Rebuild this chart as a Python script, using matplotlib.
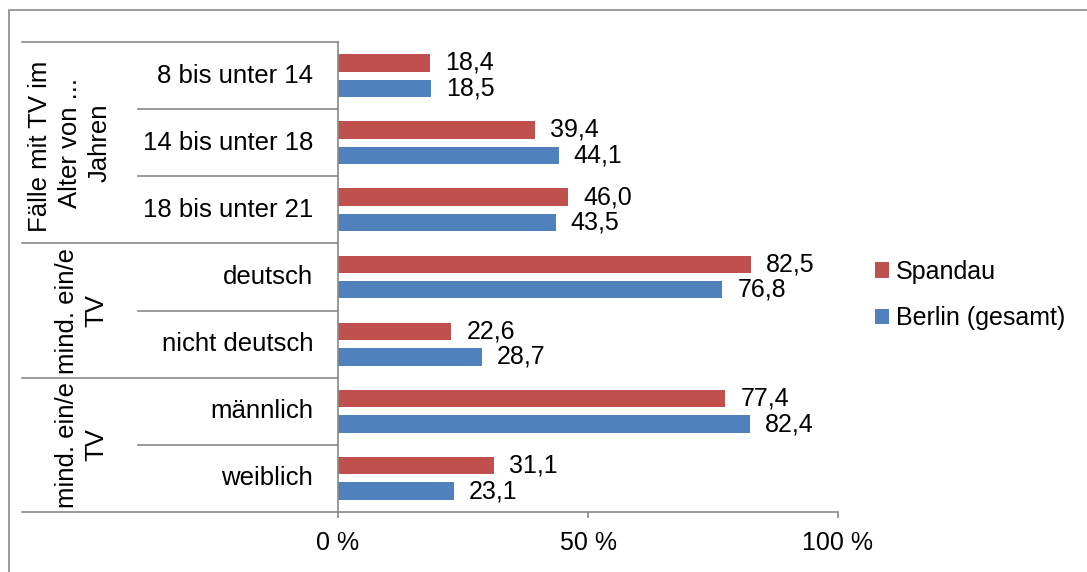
import numpy as np
import matplotlib
matplotlib.use("Agg")
from matplotlib import pyplot as plt
from matplotlib.patches import Patch, Rectangle
from matplotlib.transforms import blended_transform_factory

# data
categories = ["8 bis unter 14", "14 bis unter 18", "18 bis unter 21",
              "deutsch", "nicht deutsch", "männlich", "weiblich"]
spandau = [18.4, 39.4, 46.0, 82.5, 22.6, 77.4, 31.1]
berlin = [18.5, 44.1, 43.5, 76.8, 28.7, 82.4, 23.1]
group_labels = ["Fälle mit TV im \nAlter von ...\nJahren", "mind. ein/e\nTV", "mind. ein/e\nTV"]
group_sizes = [3, 2, 2]
xticks = [0, 50, 100]
xtick_labels = ["0 %", "50 %", "100 %"]
series_names = ["Spandau", "Berlin (gesamt)"]

RED = "#C0504D"
BLUE = "#4F81BD"
GRID = "#898989"
FS = 18

plt.rcParams["font.family"] = ["Liberation Sans", "DejaVu Sans"]

W, H = 1087, 572
fig = plt.figure(figsize=(W / 100, H / 100), dpi=100)

# outer frame (only top/left visible in the reference)
fig.patches.append(Rectangle((9 / W, -0.1), 1.2, (H - 10) / H + 0.1,
                             transform=fig.transFigure, fill=False,
                             edgecolor=GRID, linewidth=1.2))

ax_left, ax_right, ax_top, ax_bottom = 338, 838, 42, 512
ax = fig.add_axes([ax_left / W, (H - ax_bottom) / H,
                   (ax_right - ax_left) / W, (ax_bottom - ax_top) / H])

y = np.arange(len(categories))
bar_h = 0.26
off = 0.19
b1 = ax.barh(y - off, spandau, height=bar_h, color=RED)
b2 = ax.barh(y + off, berlin, height=bar_h, color=BLUE)

fmt = lambda vals: [f"{v:.1f}".replace(".", ",") for v in vals]
ax.bar_label(b1, labels=fmt(spandau), padding=11, fontsize=FS)
ax.bar_label(b2, labels=fmt(berlin), padding=11, fontsize=FS)

ax.set_xlim(0, 100)
ax.set_ylim(len(categories) - 0.5, -0.5)
ax.set_xticks(xticks)
ax.set_xticklabels(xtick_labels, fontsize=FS)
ax.tick_params(axis="x", direction="out", length=4, width=1.2, color=GRID, pad=10)
ax.set_yticks([])
for s in ["top", "right"]:
    ax.spines[s].set_visible(False)
for s in ["left", "bottom"]:
    ax.spines[s].set_color(GRID)
    ax.spines[s].set_linewidth(1.2)

# multi-level category axis drawn by hand
tr = blended_transform_factory(ax.transAxes, ax.transData)
x_outer = (22 - ax_left) / (ax_right - ax_left)
x_inner = (138 - ax_left) / (ax_right - ax_left)
x_cat = (313 - ax_left) / (ax_right - ax_left)

for i, cat in enumerate(categories):
    ax.text(x_cat, i, cat, transform=tr, ha="right", va="center", fontsize=18.5)

bounds = np.cumsum([0] + group_sizes)
for b in range(len(categories) + 1):
    x0 = x_outer if b in bounds else x_inner
    ax.plot([x0, 0], [b - 0.5, b - 0.5], transform=tr, color=GRID,
            linewidth=1.2, clip_on=False)

group_x = [70, 82, 82]
for g, lab in enumerate(group_labels):
    yc = (bounds[g] + bounds[g + 1] - 1) / 2
    xc = (group_x[g] - ax_left) / (ax_right - ax_left)
    ax.text(xc, yc, lab, transform=tr, rotation=90, ha="center", va="center",
            fontsize=18.5, multialignment="center", linespacing=1.3)

handles = [Patch(facecolor=RED), Patch(facecolor=BLUE)]
fig.legend(handles, series_names, loc="center left",
           bbox_to_anchor=(852 / W, 1 - 295 / H), frameon=False, fontsize=FS,
           handlelength=0.56, handleheight=0.56, handletextpad=0.3,
           labelspacing=0.9)

fig.savefig("out.png", dpi=100)
